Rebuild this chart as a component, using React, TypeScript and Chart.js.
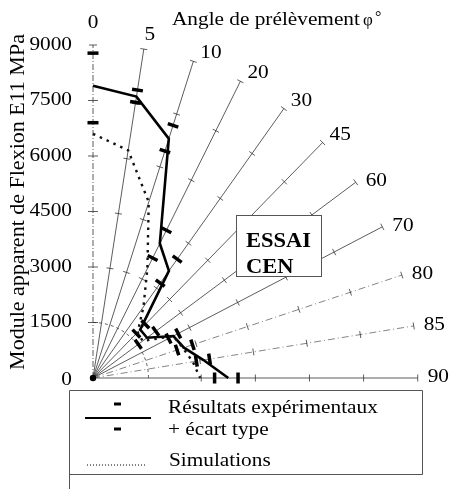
import React, { useEffect, useRef } from 'react';
import { Chart, registerables } from 'chart.js';

Chart.register(...registerables);

// Sampling angles φ (°) — rays are drawn evenly spaced on the quarter circle
const angleLabels = [0, 5, 10, 20, 30, 45, 60, 70, 80, 85, 90];
// Experimental apparent flexural modulus E11 (MPa)
const expMean = [7900, 7700, 6800, 4080, 3580, 1850, 1850, 2500, 2650, 3100, 3750];
const expLow = [6900, 7540, 6450, 3640, 3170, 1700, 1550, 2350, 2450, 2900, 3370];
const expHigh = [8780, 7880, 7180, 4480, 3970, 2050, 2150, 2650, 2900, 3270, 4020];
// Simulated values (MPa)
const simValues = [6600, 6230, 5000, 3320, 2380, 1750, 1700, 2500, 2620, 2800, 2970];
// Radial scale
const yTickValues = [0, 1500, 3000, 4500, 6000, 7500, 9000];
const yTickLabels = ['0', '1500', '3000', '4500', '6000', '7500', '9000'];
const rayTickValues = [3000, 4500, 6000, 7500, 9000];
const RMAX = 9000;
const ARC_R = 1500;

const TITLE_ANGLE = 'Angle de prélèvement';
const TITLE_Y = 'Module apparent de Flexion E11 MPa';
const LEGEND_EXP = 'Résultats expérimentaux';
const LEGEND_SD = '+ écart type';
const LEGEND_SIM = 'Simulations';

const FONT = '"Liberation Serif", "Times New Roman", serif';
const SX = 1.12;

const dispAngleDeg = (i: number) => (i * 90) / (angleLabels.length - 1);
const dispAngle = (i: number) => (dispAngleDeg(i) * Math.PI) / 180;
const polar = (i: number, r: number) => ({ x: r * Math.sin(dispAngle(i)), y: r * Math.cos(dispAngle(i)) });

const PAD = { left: 93, top: 45, right: 0, bottom: 111 };
const W = 455;
const H = 489;
const XMAX = (RMAX * (W - PAD.left - PAD.right)) / (H - PAD.top - PAD.bottom);

function txt(ctx: CanvasRenderingContext2D, s: string, x: number, y: number, align: CanvasTextAlign, font: string, sx = SX, baseline: CanvasTextBaseline = 'middle') {
  ctx.save();
  ctx.translate(x, y);
  ctx.scale(sx, 1);
  ctx.font = font;
  ctx.textAlign = align;
  ctx.textBaseline = baseline;
  ctx.fillStyle = '#000';
  ctx.fillText(s, 0, 0);
  ctx.restore();
}

const polarPlugin = {
  id: 'polarDeco',
  beforeDraw(chart: any) {
    const ctx = chart.ctx;
    ctx.save();
    ctx.fillStyle = '#fff';
    ctx.fillRect(0, 0, chart.width, chart.height);
    ctx.restore();
  },
  beforeDatasetsDraw(chart: any) {
    const ctx: CanvasRenderingContext2D = chart.ctx;
    const xs = chart.scales.x;
    const ys = chart.scales.y;
    const px = (p: { x: number; y: number }) => ({ x: xs.getPixelForValue(p.x), y: ys.getPixelForValue(p.y) });
    const o = px({ x: 0, y: 0 });
    ctx.save();
    // rays
    angleLabels.forEach((a, i) => {
      const e = px(polar(i, RMAX));
      ctx.beginPath();
      ctx.lineWidth = 0.8;
      ctx.strokeStyle = a === 80 || a === 85 ? '#666' : '#333';
      if (a === 0) ctx.setLineDash([6, 2, 1, 2]);
      else if (a === 80 || a === 85) ctx.setLineDash([7, 3, 1, 3]);
      else ctx.setLineDash([]);
      ctx.moveTo(o.x, o.y);
      ctx.lineTo(e.x, e.y);
      ctx.stroke();
      ctx.setLineDash([]);
      // ticks
      const th = dispAngle(i);
      const perp = { x: Math.cos(th), y: Math.sin(th) };
      const ticks = a === 0 ? yTickValues.slice(1) : rayTickValues;
      ticks.forEach((t) => {
        const p = px(polar(i, t));
        const hl = a === 0 ? (t === RMAX ? 4 : 5) : 3.5;
        ctx.beginPath();
        ctx.lineWidth = 0.8;
        ctx.strokeStyle = '#333';
        ctx.moveTo(p.x - perp.x * hl, p.y - perp.y * hl);
        ctx.lineTo(p.x + perp.x * hl, p.y + perp.y * hl);
        ctx.stroke();
      });
      // ray labels
      const lbl = String(a);
      const f = `19px ${FONT}`;
      if (i === 0) txt(ctx, lbl, e.x, e.y - 22, 'center', f);
      else if (i === 1) txt(ctx, lbl, e.x + 6, e.y - 14, 'center', f);
      else txt(ctx, lbl, e.x + (i >= 6 ? 10 : 7), e.y + (i >= 6 ? -1 : -8), 'left', f);
    });
    // arc at 1500
    const rPx = o.y - ys.getPixelForValue(ARC_R);
    ctx.beginPath();
    ctx.lineWidth = 0.8;
    ctx.strokeStyle = '#333';
    ctx.setLineDash([3, 3]);
    ctx.arc(o.x, o.y, rPx, -Math.PI / 2, 0);
    ctx.stroke();
    ctx.setLineDash([]);
    // origin blob
    ctx.beginPath();
    ctx.fillStyle = '#000';
    ctx.arc(o.x, o.y, 3.2, 0, Math.PI * 2);
    ctx.fill();
    // y tick labels
    yTickValues.forEach((v, k) => {
      const y = ys.getPixelForValue(v);
      ctx.save();
      ctx.translate(72, y + (k === 0 ? 2 : 0));
      ctx.scale(SX, 1);
      ctx.font = `19px ${FONT}`;
      ctx.textAlign = 'right';
      ctx.textBaseline = 'middle';
      ctx.fillStyle = '#000';
      ctx.fillText(yTickLabels[k], 0, 0);
      ctx.restore();
    });
    // y title (rotated)
    ctx.save();
    ctx.translate(24, 202);
    ctx.rotate(-Math.PI / 2);
    ctx.font = `22px ${FONT}`;
    ctx.textAlign = 'center';
    ctx.textBaseline = 'alphabetic';
    ctx.fillStyle = '#000';
    ctx.fillText(TITLE_Y, 0, 0);
    ctx.restore();
    // angle title
    txt(ctx, TITLE_ANGLE, 172, 25, 'left', `19px ${FONT}`, SX, 'alphabetic');
    txt(ctx, 'φ', 363, 25, 'left', `17px ${FONT}`, 1, 'alphabetic');
    txt(ctx, '°', 375, 22, 'left', `16px ${FONT}`, 1, 'alphabetic');
    // ESSAI CEN box
    ctx.beginPath();
    ctx.fillStyle = '#fff';
    ctx.fillRect(236, 215, 85, 61);
    ctx.lineWidth = 1;
    ctx.strokeStyle = '#555';
    ctx.strokeRect(236.5, 215.5, 85, 61);
    txt(ctx, 'ESSAI', 246, 247, 'left', `bold 21px ${FONT}`, 1.07, 'alphabetic');
    txt(ctx, 'CEN', 246, 273, 'left', `bold 21px ${FONT}`, 1.07, 'alphabetic');
    ctx.restore();
  },
  afterDraw(chart: any) {
    const ctx: CanvasRenderingContext2D = chart.ctx;
    ctx.save();
    // legend box
    ctx.lineWidth = 1;
    ctx.strokeStyle = '#555';
    ctx.beginPath();
    ctx.moveTo(69.5, 489);
    ctx.lineTo(69.5, 390.5);
    ctx.lineTo(422.5, 390.5);
    ctx.lineTo(422.5, 474.5);
    ctx.lineTo(69.5, 474.5);
    ctx.stroke();
    // experimental sample
    ctx.beginPath();
    ctx.strokeStyle = '#000';
    ctx.lineWidth = 2;
    ctx.moveTo(85, 418);
    ctx.lineTo(151, 418);
    ctx.stroke();
    ctx.lineWidth = 3;
    ctx.beginPath();
    ctx.moveTo(114, 404);
    ctx.lineTo(121, 404);
    ctx.moveTo(114, 429);
    ctx.lineTo(121, 429);
    ctx.stroke();
    // simulation sample
    ctx.beginPath();
    ctx.lineWidth = 1;
    ctx.setLineDash([1, 2]);
    ctx.moveTo(87, 465);
    ctx.lineTo(147, 465);
    ctx.stroke();
    ctx.setLineDash([]);
    const f = `19px ${FONT}`;
    txt(ctx, LEGEND_EXP, 168, 408, 'left', f);
    txt(ctx, LEGEND_SD, 168, 430, 'left', f);
    txt(ctx, LEGEND_SIM, 169, 461, 'left', f);
    ctx.restore();
  },
};

export default function App() {
  const ref = useRef<HTMLCanvasElement | null>(null);
  useEffect(() => {
    if (!ref.current) return;
    const expPts = expMean.map((r, i) => polar(i, r));
    const simPts = simValues.map((r, i) => polar(i, r));
    const errPts = [...expLow.map((r, i) => polar(i, r)), ...expHigh.map((r, i) => polar(i, r))];
    const errRot = [...expLow.map((_, i) => dispAngleDeg(i)), ...expHigh.map((_, i) => dispAngleDeg(i))];
    const chart = new Chart(ref.current, {
      type: 'scatter',
      data: {
        datasets: [
          {
            label: 'Simulations',
            data: simPts,
            showLine: true,
            borderColor: '#111',
            borderWidth: 2.4,
            borderDash: [2.5, 5],
            pointRadius: 0,
            clip: false,
          } as any,
          {
            label: 'Résultats expérimentaux',
            data: expPts,
            showLine: true,
            borderColor: '#000',
            borderWidth: 2.6,
            pointRadius: 0,
            clip: false,
          } as any,
          {
            label: '+ écart type',
            data: errPts,
            showLine: false,
            pointStyle: 'line',
            pointRadius: 5.5,
            pointBorderWidth: 3.5,
            pointBorderColor: '#000',
            rotation: errRot,
            clip: false,
          } as any,
        ],
      },
      options: {
        responsive: false,
        maintainAspectRatio: false,
        animation: false,
        events: [],
        layout: { padding: PAD },
        scales: {
          x: { type: 'linear', min: 0, max: XMAX, display: false },
          y: { type: 'linear', min: 0, max: RMAX, display: false },
        },
        plugins: { legend: { display: false }, tooltip: { enabled: false } },
      } as any,
      plugins: [polarPlugin],
    });
    return () => chart.destroy();
  }, []);
  return (
    <div style={{ position: 'fixed', left: 0, top: 0, width: W, height: H, background: '#fff' }}>
      <canvas ref={ref} width={W} height={H} style={{ display: 'block', width: W, height: H }} />
    </div>
  );
}
